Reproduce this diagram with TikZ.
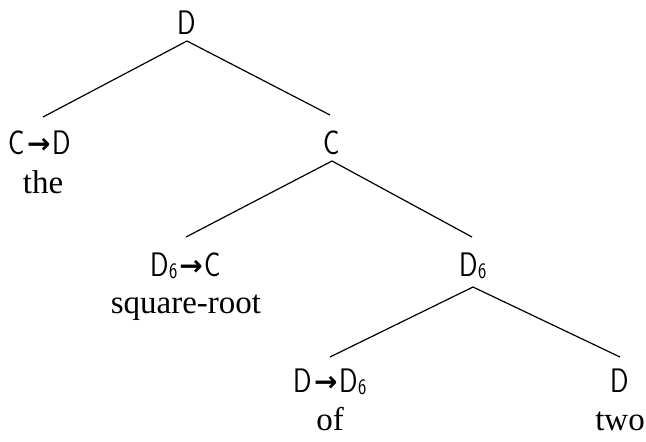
\documentclass[tikz,border=0pt]{standalone}
\usepackage{fontspec}
\setmainfont{Liberation Serif}
\newfontfamily\catfont[FakeStretch=0.8]{Latin Modern Sans}
\newfontfamily\arrowfont{DejaVu Sans Bold}
\newcommand{\arr}{\hspace{2pt}{\arrowfont\fontsize{28}{28}\selectfont\raisebox{0.5pt}{→}}\hspace{2pt}}
\newcommand{\six}{\raisebox{-2.5pt}{\fontsize{22}{22}\selectfont 6}}
\begin{document}
\begin{tikzpicture}[x=1pt,y=-1pt,
  cat/.style={font=\catfont\fontsize{34}{34}\selectfont, inner sep=0pt, anchor=base},
  word/.style={font=\fontsize{33}{33}\selectfont, inner sep=0pt, anchor=base},
  edge/.style={line width=1.2pt}]
\useasboundingbox (0,0) rectangle (646,442);
\node[cat] (D0) at (187,34) {D};
\coordinate (D0b) at (187,41);
\node[cat] (CD) at (40,154) {C\arr D};
\coordinate (CDt) at (43,117);
\node[word] (the) at (43,193) {the};
\node[cat] (C) at (332,154) {C};
\coordinate (Ct) at (330,115);
\coordinate (Cb) at (332,161);
\node[cat] (D6C) at (186,276) {D\six\arr C};
\coordinate (D6Ct) at (186,237);
\node[word] (sq) at (186,313) {square-root};
\node[cat] (D6) at (473,276) {D\six};
\coordinate (D6t) at (472,237);
\coordinate (D6b) at (473,287);
\node[cat] (DD6) at (330,392) {D\arr D\six};
\coordinate (DD6t) at (330,357);
\node[word] (of) at (330,430) {of};
\node[cat] (D1) at (620,392) {D};
\coordinate (D1t) at (620,357);
\node[word] (two) at (620,430) {two};
\draw[edge] (D0b) -- (CDt);
\draw[edge] (D0b) -- (Ct);
\draw[edge] (Cb) -- (D6Ct);
\draw[edge] (Cb) -- (D6t);
\draw[edge] (D6b) -- (DD6t);
\draw[edge] (D6b) -- (D1t);
\end{tikzpicture}
\end{document}
